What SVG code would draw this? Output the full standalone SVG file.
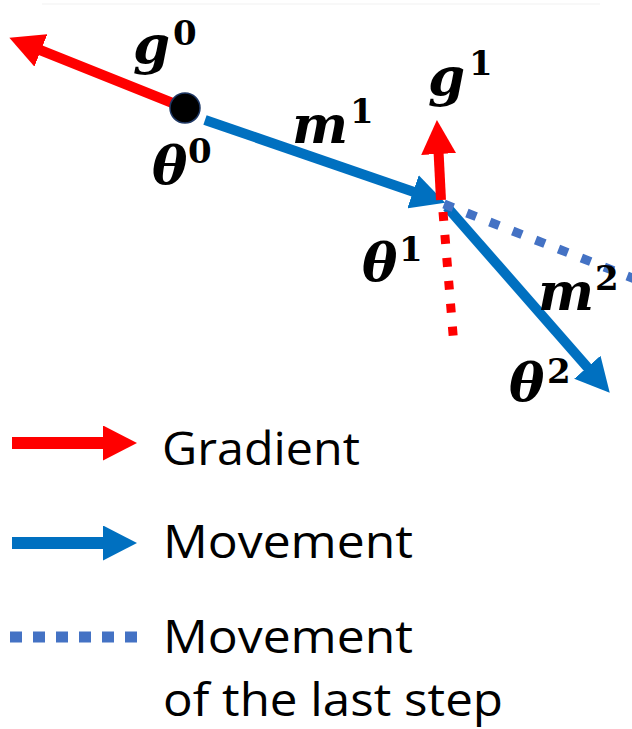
<svg xmlns="http://www.w3.org/2000/svg" width="632" height="729" viewBox="0 0 632 729">
<style>
.math{font-family:"DejaVu Serif","Liberation Serif",serif;font-weight:bold;font-style:italic;font-size:53px;fill:#000}
.sup{font-family:"DejaVu Serif","Liberation Serif",serif;font-weight:bold;font-style:normal;font-size:34px;fill:#000}
.leg{font-family:"Open Sans","Noto Sans",sans-serif;font-size:46px;fill:#000}
.red{stroke:#FF0000;stroke-width:10;fill:none}
.blue{stroke:#0070C0;stroke-width:10;fill:none}
.reddot{stroke:#FF0000;stroke-width:9;stroke-dasharray:9 14;fill:none}
.bluedot{stroke:#4472C4;stroke-width:9;stroke-dasharray:10 14.6;fill:none}
</style>
<defs>
<marker id="hr" markerUnits="userSpaceOnUse" markerWidth="34" markerHeight="35" viewBox="0 0 34 35" refX="1" refY="17.5" orient="auto"><path d="M0,0 L34,17.5 L0,35 Z" fill="#FF0000"/></marker>
<marker id="hb" markerUnits="userSpaceOnUse" markerWidth="34" markerHeight="35" viewBox="0 0 34 35" refX="1" refY="17.5" orient="auto"><path d="M0,0 L34,17.5 L0,35 Z" fill="#0070C0"/></marker>
</defs>
<rect width="632" height="729" fill="#fff"/>
<line x1="42" y1="4" x2="600" y2="4" stroke="#f8f8f8" stroke-width="2"/>
<g id="connectors">
<line class="red" x1="185" y1="108" x2="40" y2="50" marker-end="url(#hr)"/>
<line class="blue" x1="205" y1="120" x2="414" y2="192" marker-end="url(#hb)"/>
<line class="red" x1="441" y1="200" x2="438.6" y2="153" marker-end="url(#hr)"/>
<line class="blue" x1="447" y1="207" x2="588" y2="368" marker-end="url(#hb)"/>
<line class="reddot" x1="443" y1="212" x2="453.5" y2="340"/>
<line class="bluedot" x1="444" y1="204" x2="640" y2="281"/>
</g>
<g id="theta0">
<circle cx="185" cy="108" r="15" fill="#000" stroke="#1F3864" stroke-width="1.5"/>
<text class="math" x="152" y="184">θ</text><text class="sup" x="188" y="163">0</text>
</g>
<g id="g0"><text class="math" x="133" y="63">g</text><text class="sup" x="173" y="45">0</text></g>
<g id="m1"><text class="math" x="292" y="143">m</text><text class="sup" x="350" y="123">1</text></g>
<g id="g1"><text class="math" x="428" y="95">g</text><text class="sup" x="469" y="75">1</text></g>
<g id="theta1"><text class="math" x="362" y="281">θ</text><text class="sup" x="399" y="261">1</text></g>
<g id="m2"><text class="math" x="538" y="310">m</text><text class="sup" x="595" y="290">2</text></g>
<g id="theta2"><text class="math" x="509" y="401">θ</text><text class="sup" x="547" y="383">2</text></g>
<g id="legend">
<line x1="12" y1="443" x2="104" y2="443" stroke="#FF0000" stroke-width="12" marker-end="url(#hr)"/>
<text class="leg" x="162" y="465" textLength="198" lengthAdjust="spacingAndGlyphs">Gradient</text>
<line x1="12" y1="543" x2="104" y2="543" stroke="#0070C0" stroke-width="12" marker-end="url(#hb)"/>
<text class="leg" x="163" y="558" textLength="250" lengthAdjust="spacingAndGlyphs">Movement</text>
<line x1="10" y1="637" x2="137" y2="637" stroke="#4472C4" stroke-width="11" stroke-dasharray="12 11"/>
<text class="leg" x="163" y="653" textLength="250" lengthAdjust="spacingAndGlyphs">Movement</text>
<text class="leg" x="163" y="716" textLength="340" lengthAdjust="spacingAndGlyphs">of the last step</text>
</g>
</svg>
